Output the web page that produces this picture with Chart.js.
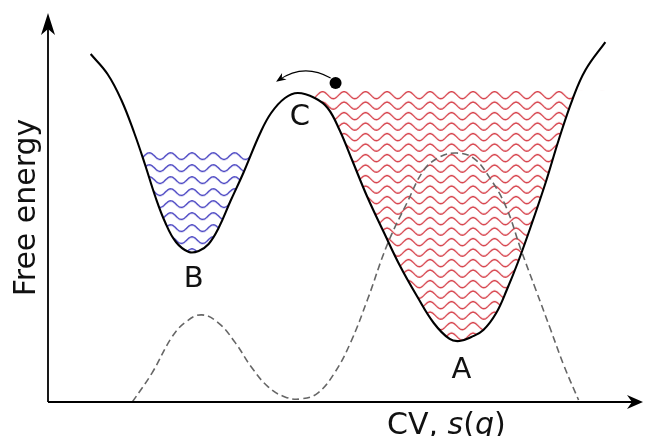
<!DOCTYPE html>
<html><head><meta charset="utf-8">
<script src="https://cdn.jsdelivr.net/npm/chart.js@4.4.0/dist/chart.umd.min.js"></script>
<style>html,body{margin:0;padding:0;background:#fff;}canvas{display:block;}</style>
</head><body>
<canvas id="c" width="649" height="436"></canvas>
<script>
// Free-energy profile along the collective variable
const cv = [7.17,10.0,12.33,14.5,16.33,18.0,19.67,21.5,23.67,25.33,27.0,28.67,30.67,32.83,35.67,37.5,39.83,42.0,44.83,47.0,49.0,51.17,53.67,56.5,59.17,62.0,64.83,67.5,69.17,71.17,73.17,75.33,77.17,79.0,81.17,83.67,85.83,88.17,90.33,93.67];
const freeEnergy = [89.46,84.32,77.63,69.15,60.93,52.96,46.27,41.13,38.56,38.82,40.62,44.73,51.67,58.87,69.15,74.29,78.15,79.43,78.15,75.58,69.92,61.95,52.70,43.44,34.96,27.25,20.31,16.20,15.68,16.71,18.51,22.88,29.05,35.99,45.24,56.56,67.35,77.89,85.35,92.54];
// Dashed distribution curve
const distCv = [14.17,17.5,20.83,23.17,25.83,28.67,31.5,34.17,37.0,39.83,42.5,45.33,48.17,50.83,53.67,57.0,60.33,63.17,65.83,68.67,71.5,74.17,77.0,79.5,82.0,84.5,86.67,89.17];
const dist = [0,7.5,16.7,20.6,22.4,20.3,15.2,9.0,3.9,1.3,0.8,2.3,7.5,15.2,26.2,40.4,51.2,59.6,63.0,64.0,62.7,57.8,50.1,39.1,28.8,18.5,9.5,0.5];
// Filling levels of the two basins (top wave line)
const blueLevel = 63.2;
const redLevel = 78.9;
// Basin ranges (indices into cv)
const basinB = [0, 17];
const basinA = [18, 39];
// Particle near the barrier
const particleCv = [48.33];
const particleF = [82.0];
// Arrow: start, control, end (cv, F)
const arrowCv = [47.5, 43.0, 38.33];
const arrowF = [83.3, 87.2, 82.3];
// State labels
const stateNames = ['A', 'B', 'C'];
const stateCv = [69.5, 24.5, 42.33];
const stateF = [6.2, 29.6, 71.2];
const yTitle = 'Free energy';

const pts = (xs, ys) => xs.map((x, i) => ({x, y: ys[i]}));
const curve = pts(cv, freeEnergy);

function wavePattern(color, period, periods, spacing, lines, amp, lw) {
  const w = Math.round(period * periods), h = Math.round(spacing * lines);
  const per = w / periods, sp = h / lines;
  const c = document.createElement('canvas'); c.width = w; c.height = h;
  const g = c.getContext('2d');
  g.strokeStyle = color; g.lineWidth = lw;
  for (let k = 0; k < lines; k++) {
    const cy = sp * (k + 0.5);
    g.beginPath();
    for (let x = -2; x <= w + 2; x += 0.5) {
      const yy = cy - amp * Math.cos(2 * Math.PI * x / per);
      if (x === -2) g.moveTo(x, yy); else g.lineTo(x, yy);
    }
    g.stroke();
  }
  const p = g.createPattern(c, 'repeat');
  p.firstLine = sp * 0.5;
  return p;
}
const redPattern = wavePattern('rgb(212,55,65)', 21.5, 2, 10.5, 2, 3.5, 1.35);
const bluePattern = wavePattern('rgb(60,55,190)', 21.33, 3, 12, 1, 3.3, 1.35);

function arrowHead(ctx, tx, ty, ang, len, half, notch) {
  const c = Math.cos(ang), s = Math.sin(ang);
  const P = (a, b) => [tx - a * c + b * s, ty - a * s - b * c];
  ctx.beginPath();
  let p = P(0, 0); ctx.moveTo(p[0], p[1]);
  p = P(len, half); ctx.lineTo(p[0], p[1]);
  p = P(len - notch, 0); ctx.lineTo(p[0], p[1]);
  p = P(len, -half); ctx.lineTo(p[0], p[1]);
  ctx.closePath(); ctx.fill();
}

const sketch = {
  id: 'sketch',
  beforeDraw(chart) {
    const y = chart.scales.y;
    redPattern.setTransform(new DOMMatrix().translate(0, y.getPixelForValue(redLevel) - redPattern.firstLine));
    bluePattern.setTransform(new DOMMatrix().translate(0, y.getPixelForValue(blueLevel) - bluePattern.firstLine));
  },
  afterDatasetsDraw(chart) {
    const {ctx, chartArea: a, scales: {x, y}} = chart;
    ctx.save();
    ctx.strokeStyle = '#000'; ctx.fillStyle = '#000'; ctx.lineWidth = 1.8;
    ctx.beginPath();
    ctx.moveTo(a.left, a.bottom); ctx.lineTo(a.left, a.top + 14);
    ctx.moveTo(a.left, a.bottom); ctx.lineTo(a.right - 10, a.bottom);
    ctx.stroke();
    arrowHead(ctx, a.left, a.top, -Math.PI / 2, 22, 7, 6);
    arrowHead(ctx, a.right, a.bottom, 0, 16, 7, 5);
    // curved arrow
    const X = arrowCv.map(v => x.getPixelForValue(v)), Y = arrowF.map(v => y.getPixelForValue(v));
    ctx.lineWidth = 1.1;
    ctx.beginPath();
    ctx.moveTo(X[0], Y[0]);
    ctx.quadraticCurveTo(X[1], Y[1], X[2] + 3, Y[2] - 2);
    ctx.stroke();
    arrowHead(ctx, X[2], Y[2], Math.atan2(Y[2] - Y[1], X[2] - X[1]), 10, 4, 3);
    ctx.restore();
  },
  afterDraw(chart) {
    const {ctx, chartArea: a, scales: {x, y}} = chart;
    ctx.save();
    ctx.fillStyle = '#111';
    ctx.font = '29px "DejaVu Sans"';
    ctx.textAlign = 'center'; ctx.textBaseline = 'alphabetic';
    stateNames.forEach((n, i) => ctx.fillText(n, x.getPixelForValue(stateCv[i]), y.getPixelForValue(stateF[i])));
    // y title
    ctx.save();
    ctx.font = '30px "DejaVu Sans"';
    ctx.translate(a.left - 13, (a.top + a.bottom) / 2);
    ctx.rotate(-Math.PI / 2);
    ctx.fillText(yTitle, 0, 0);
    ctx.restore();
    // x title with math italics
    const parts = [['CV, ', false], ['s', true], ['(', false], ['q', true], [')', false]];
    let px = a.left + 339;
    const base = a.bottom + 32;
    ctx.textAlign = 'left';
    parts.forEach(([t, it]) => {
      ctx.font = (it ? 'oblique ' : '') + '30px "DejaVu Sans"';
      ctx.fillText(t, px, base);
      px += ctx.measureText(t).width;
    });
    ctx.restore();
  }
};

new Chart(document.getElementById('c'), {
  type: 'line',
  data: {
    datasets: [
      {type: 'scatter', data: pts(particleCv, particleF), pointRadius: 6, pointHoverRadius: 6,
       backgroundColor: '#000', borderColor: '#000', borderWidth: 0, showLine: false, order: 0},
      {data: curve, borderColor: '#000', borderWidth: 2.1, pointRadius: 0, fill: false,
       tension: 0.4, order: 1},
      {data: pts(distCv, dist), borderColor: '#666', borderWidth: 1.6, borderDash: [7, 4],
       pointRadius: 0, fill: false, tension: 0.4, order: 2},
      {data: curve.slice(basinA[0], basinA[1] + 1), borderWidth: 0, borderColor: 'rgba(0,0,0,0)', pointRadius: 0,
       tension: 0.4, order: 3,
       fill: {target: {value: redLevel + 1.1}, above: 'rgba(0,0,0,0)', below: redPattern}},
      {data: curve.slice(basinB[0], basinB[1] + 1), borderWidth: 0, borderColor: 'rgba(0,0,0,0)', pointRadius: 0,
       tension: 0.4, order: 4,
       fill: {target: {value: blueLevel + 1.1}, above: 'rgba(0,0,0,0)', below: bluePattern}}
    ]
  },
  options: {
    responsive: false,
    animation: false,
    events: [],
    layout: {padding: {left: 48, right: 1, top: 13, bottom: 34}},
    plugins: {legend: {display: false}, tooltip: {enabled: false}},
    scales: {
      x: {type: 'linear', min: 0, max: 100, display: false},
      y: {type: 'linear', min: 0, max: 100, display: false}
    }
  },
  plugins: [sketch]
});
</script>
</body></html>
